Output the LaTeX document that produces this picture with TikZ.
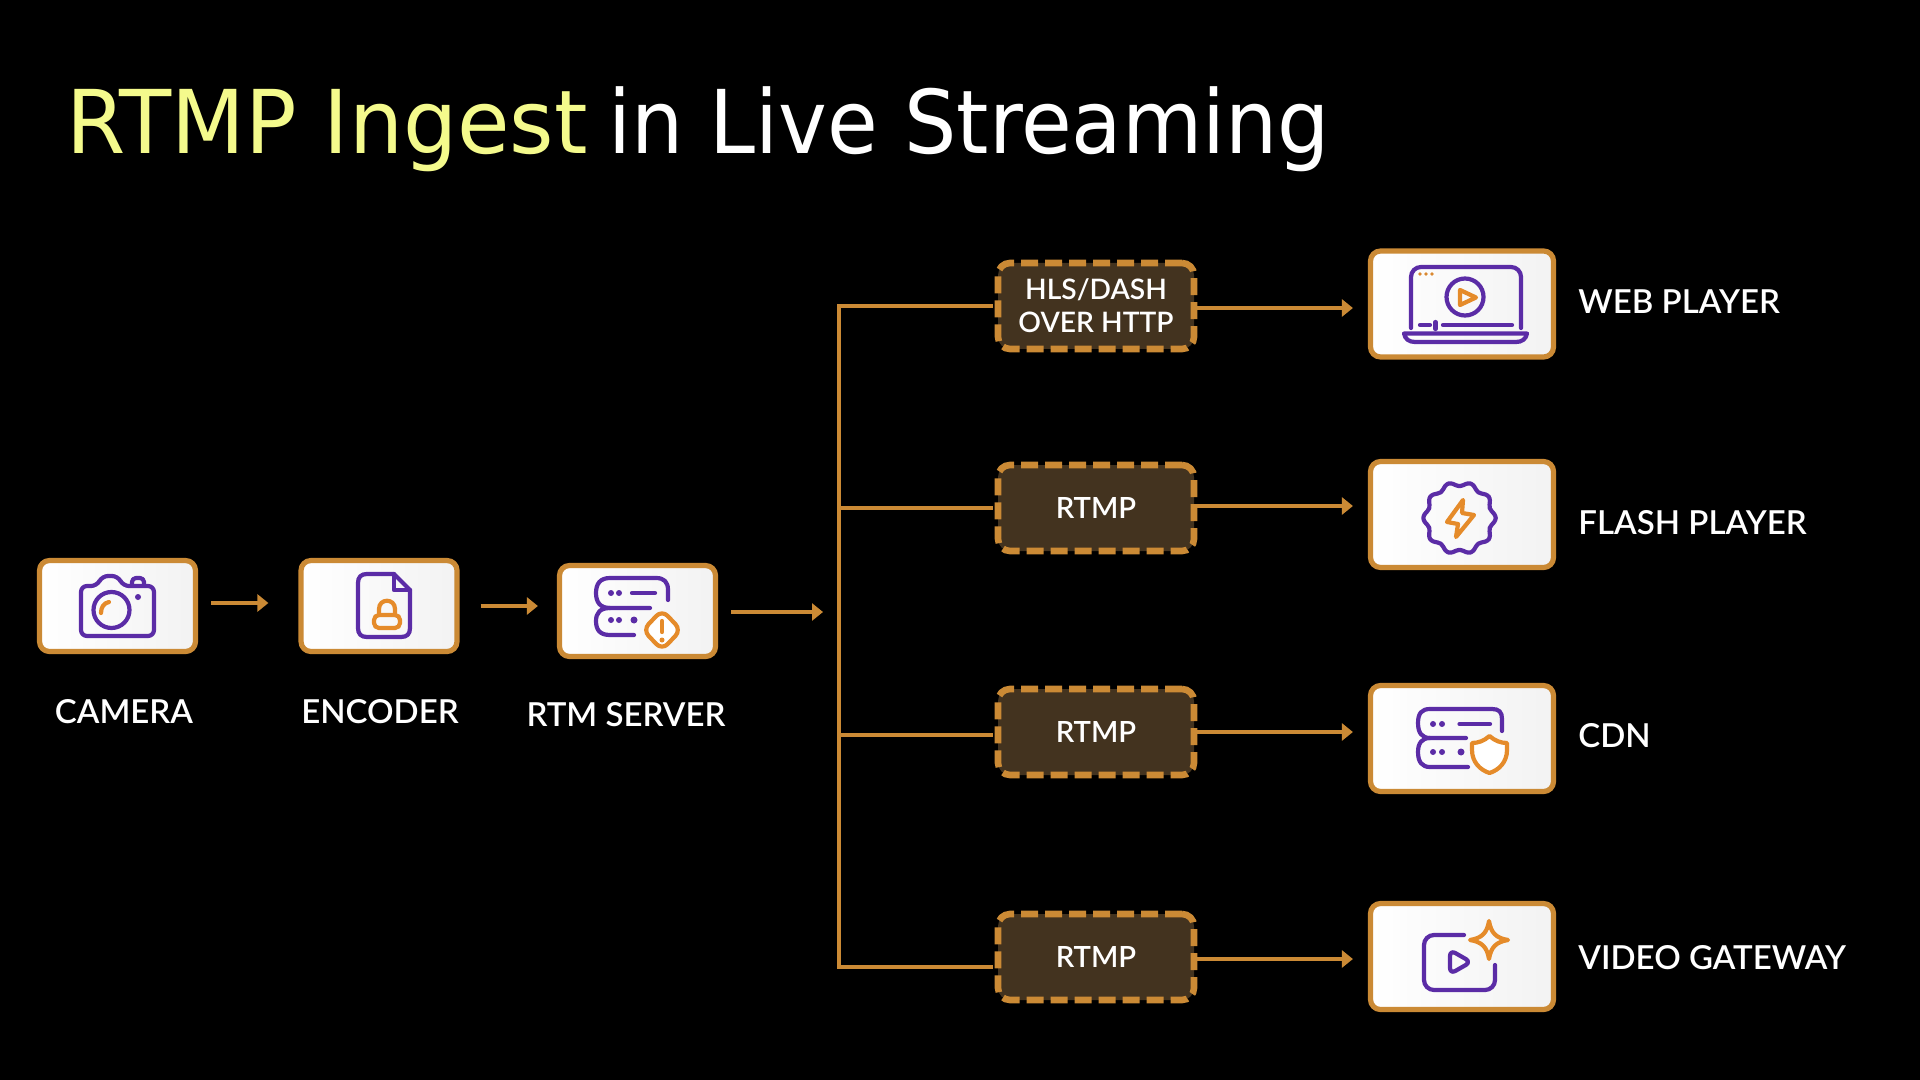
\documentclass[tikz,border=0pt]{standalone}
\usepackage{fontspec}
\usetikzlibrary{arrows.meta}
\setmainfont{Lato}
\newfontfamily\labfont{Lato Semibold}
\newfontfamily\ttlafont[FakeStretch=0.97]{DejaVu Sans}
\newfontfamily\ttlbfont[FakeStretch=0.937]{DejaVu Sans}
\definecolor{amber}{HTML}{CB8A35}
\definecolor{fillbrown}{HTML}{43331F}
\definecolor{purp}{HTML}{5B2CA6}
\definecolor{oran}{HTML}{E58B2A}
\definecolor{ttlyellow}{HTML}{F4FA8C}
\tikzset{
 wbox/.style={draw=amber,line width=2.6pt,rounded corners=5pt,left color=white,right color=white!95!black,inner sep=0pt},
 small/.style={wbox,minimum width=78pt,minimum height=45.5pt},
 big/.style={wbox,minimum width=91.5pt,minimum height=53pt},
 dbox/.style={draw=amber,fill=fillbrown,line width=3.3pt,rounded corners=6pt,dash pattern=on 8.5pt off 3.5pt,minimum width=98pt,minimum height=43pt,inner sep=0pt,text=white,align=center,font=\labfont\fontsize{14.6}{16.5}\selectfont},
 lab/.style={text=white,inner sep=0pt,font=\labfont\fontsize{16.5}{20}\selectfont},
 ttl/.style={inner sep=0pt,anchor=base west},
 wire/.style={draw=amber,line width=2.2pt},
 arr/.style={wire,-{Triangle[length=5.5pt,width=8.5pt]}},
 ipur/.style={draw=purp,line width=2.1pt,line cap=round,line join=round},
 iora/.style={draw=oran,line width=2.1pt,line cap=round,line join=round},
}
\begin{document}
\begin{tikzpicture}[x=0.5pt,y=-0.5pt]
\path[use as bounding box,fill=black] (0,0) rectangle (1920,1080);
% title
\node[ttl,text=ttlyellow,font=\ttlafont\fontsize{44}{50}\selectfont] (t1) at (66,154) {RTMP Ingest};
\node[ttl,text=white,font=\ttlbfont\fontsize{44}{50}\selectfont] (t2) at (608,154) {in Live Streaming};
% small boxes
\node[small] (cam) at (117.5,606) {};
\node[small] (enc) at (379,606) {};
\node[small] (rtm) at (637.5,611) {};
% dashed boxes
\node[dbox,font=\labfont\fontsize{14.1}{16.5}\selectfont] (hls) at (1096,306) {\raisebox{-0.5pt}{HLS/DASH}\\\raisebox{-0.5pt}{OVER HTTP}};
\node[dbox] (r2) at (1096,508) {\raisebox{0.3pt}{RTMP}};
\node[dbox] (r3) at (1096,732) {\raisebox{-0.3pt}{RTMP}};
\node[dbox] (r4) at (1096,957) {RTMP};
% big boxes
\node[big] (b1) at (1462,304) {};
\node[big] (b2) at (1462,514.5) {};
\node[big] (b3) at (1462,738.5) {};
\node[big] (b4) at (1462,956.5) {};
% labels
\node[lab] (lcam) at (124,712) {CAMERA};
\node[lab] (lenc) at (380,712) {ENCODER};
\node[lab] (lrtm) at (626,715) {RTM SERVER};
\node[lab,anchor=west] (lb1) at (1578,302) {WEB PLAYER};
\node[lab,anchor=west] (lb2) at (1578,523) {FLASH PLAYER};
\node[lab,anchor=west] (lb3) at (1578,736) {CDN};
\node[lab,anchor=west] (lb4) at (1578,958) {VIDEO GATEWAY};
% connectors
\coordinate (hub) at (823,612);
\coordinate (trunk) at (839,611);
\draw[arr] ([shift={(13,-3)}]cam.east) -- ([shift={(-30,-3)}]enc.west);
\draw[arr] ([shift={(21,0)}]enc.east) -- ([shift={(-19,-5)}]rtm.west);
\draw[arr] ([shift={(13,1)}]rtm.east) -- (hub);
\draw[wire] ([shift={(-2,0)}]hls.west) -| (trunk);
\draw[wire] ([shift={(-2,10)}]r4.west) -| (trunk);
\draw[wire] ([shift={(-2,0)}]r2.west) -- (r2.west -| trunk);
\draw[wire] ([shift={(-2,3)}]r3.west) -- ([yshift=-1.5pt]r3.west -| trunk);
\draw[arr] ([shift={(0,2)}]hls.east) -- ([shift={(-15,4)}]b1.west);
\draw[arr] ([shift={(0,-2)}]r2.east) -- ([shift={(-15,-8.5)}]b2.west);
\draw[arr] (r3.east) -- ([shift={(-15,-6.5)}]b3.west);
\draw[arr] ([shift={(0,2)}]r4.east) -- ([shift={(-15,2.5)}]b4.west);
% camera icon
\draw[ipur,rounded corners=3pt] (97,586) -- (102,576) -- (118,576) -- (123,586) -- (154,586) -- (154,636) -- (81,636) -- (81,586) -- cycle;
\draw[ipur,rounded corners=2pt] (132,584) -- (132,578) -- (144,578) -- (144,584);
\draw[ipur] (111.5,610) circle (18);
\fill[purp] (138,597) circle (3);
\draw[iora] (101,613) .. controls (101,607) and (104,603) .. (109,602);
% encoder icon
\draw[ipur] (394,574) -- (367,574) .. controls (361,574) and (358,577) .. (358,583) -- (358,628) .. controls (358,634) and (361,637) .. (367,637) -- (401,637) .. controls (407,637) and (410,634) .. (410,628) -- (410,590) -- cycle;
\draw[ipur] (394,574) -- (394,590) -- (410,590);
\draw[iora,rounded corners=2.5pt] (374,615) rectangle (400,628);
\draw[iora] (379,615) -- (379,609) .. controls (379,598) and (395,598) .. (395,609) -- (395,615);
% rtm server icon
\draw[ipur] (668,600) -- (668,590) .. controls (668,582) and (664,578) .. (656,578) -- (610,578) .. controls (600,578) and (596,584) .. (596,593) .. controls (596,602) and (600,608) .. (610,608) -- (650,608);
\draw[ipur] (610,608) .. controls (600,608) and (596,613) .. (596,621) .. controls (596,630) and (600,635) .. (610,635) -- (634,635);
\fill[purp] (611,593) circle (3) (619,593) circle (3) (611,620) circle (3) (619,620) circle (3) (634,620) circle (3.5);
\draw[ipur] (632,593) -- (655,593);
\draw[iora,rounded corners=4pt,fill=white] (662,610) -- (681,630) -- (662,650) -- (643,630) -- cycle;
\draw[iora] (662,621) -- (662,632);
\fill[oran] (662,640) circle (2.5);
% web player icon
\draw[ipur,rounded corners=5pt] (1411,328) -- (1411,267) -- (1521,267) -- (1521,328);
\draw[ipur] (1404,333.5) -- (1527,333.5) .. controls (1526,339) and (1522,342) .. (1516,342) -- (1415,342) .. controls (1409,342) and (1405,339) .. (1404,333.5) -- cycle;
\fill[oran!70!brown] (1420,274) circle (1.8) (1426,274) circle (1.8) (1432,274) circle (1.8);
\draw[ipur] (1465,297) circle (18.5);
\draw[iora] (1460,290) -- (1476,297.5) -- (1460,305) -- cycle;
\draw[ipur] (1420,325) -- (1430,325);
\draw[ipur] (1435.5,322) -- (1435.5,329);
\draw[ipur] (1443,325) -- (1512,325);
% flash icon
\draw[ipur] plot[smooth cycle,samples=60,domain=0:354,variable=\t] ({1459.5+(34+2.2*cos(10*\t))*cos(\t)},{518+(34+2.2*cos(10*\t))*sin(\t)});
\draw[iora] (1463,500) -- (1447,522) -- (1458,524) -- (1456,537) -- (1474,515) -- (1462,513) -- cycle;
% cdn icon
\draw[ipur] (1502,731) -- (1502,719) .. controls (1502,712) and (1499,709) .. (1492,709) -- (1430,709) .. controls (1422,709) and (1418,713) .. (1418,723) .. controls (1418,733) and (1422,738) .. (1430,738) -- (1466,738);
\draw[ipur] (1430,738) .. controls (1422,738) and (1418,743) .. (1418,752) .. controls (1418,762) and (1422,767) .. (1430,767) -- (1468,767);
\fill[purp] (1433,724) circle (3) (1442,724) circle (3) (1433,752) circle (3) (1442,752) circle (3) (1461,752) circle (3.5);
\draw[ipur] (1459.5,724) -- (1490,724);
\draw[iora,fill=white] (1489.5,736) .. controls (1495,741) and (1501,743) .. (1507,743) -- (1507,750) .. controls (1507,762) and (1499,770) .. (1489.5,773) .. controls (1480,770) and (1472,762) .. (1472,750) -- (1472,743) .. controls (1478,743) and (1484,741) .. (1489.5,736) -- cycle;
% video gateway icon
\draw[ipur,rounded corners=5pt] (1464,935) -- (1424,935) -- (1424,990) -- (1495,990) -- (1495,965);
\draw[ipur,rounded corners=3pt] (1450,950) -- (1471,962) -- (1450,974) -- cycle;
\draw[iora] (1489,921) .. controls (1491,933) and (1496,938) .. (1508,940) .. controls (1496,942) and (1491,947) .. (1489,959) .. controls (1487,947) and (1482,942) .. (1470,940) .. controls (1482,938) and (1487,933) .. (1489,921) -- cycle;
\end{tikzpicture}
\end{document}
